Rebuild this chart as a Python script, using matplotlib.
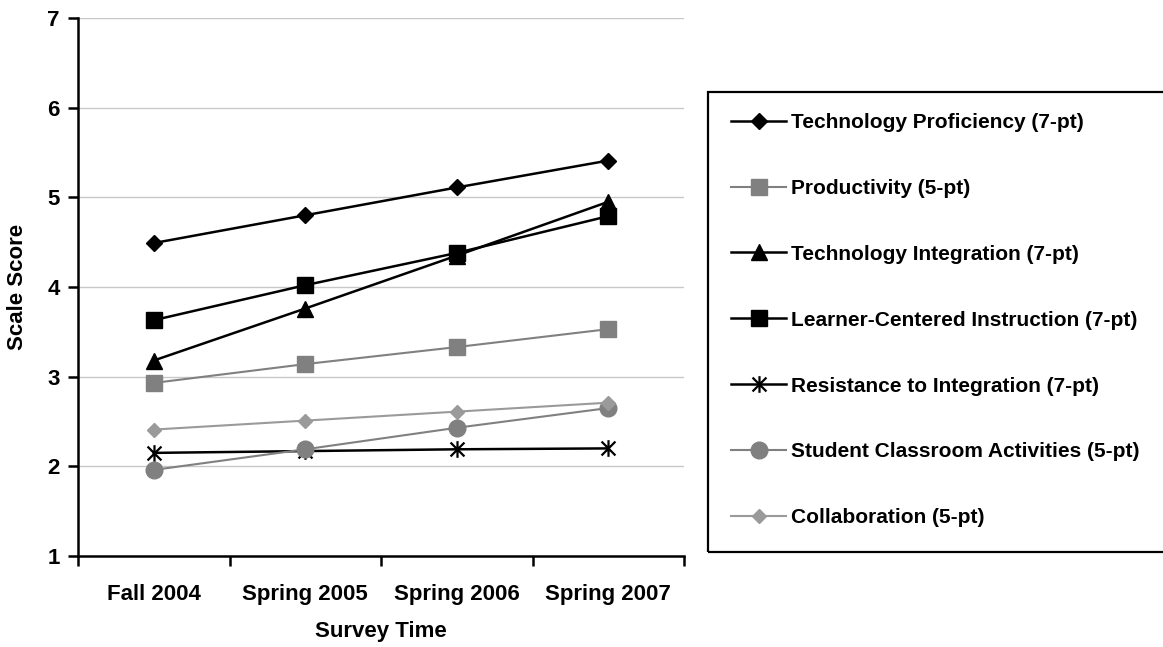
import numpy as np
import matplotlib
matplotlib.use("Agg")
import matplotlib.pyplot as plt
from matplotlib.path import Path
from matplotlib.patches import Rectangle

plt.rcParams['font.family'] = ['Liberation Sans', 'DejaVu Sans']
plt.rcParams['font.weight'] = 'bold'
plt.rcParams['axes.labelweight'] = 'bold'

# survey waves
times = ['Fall 2004', 'Spring 2005', 'Spring 2006', 'Spring 2007']

tech_prof = [4.49, 4.80, 5.11, 5.41]
productivity = [2.93, 3.14, 3.33, 3.53]
tech_integ = [3.18, 3.76, 4.35, 4.95]
learner_centered = [3.63, 4.02, 4.38, 4.79]
resistance = [2.15, 2.17, 2.19, 2.20]
student_act = [1.96, 2.19, 2.43, 2.65]
collaboration = [2.41, 2.51, 2.61, 2.71]

# asterisk marker: X with a vertical bar
star = Path([(-1, -1), (1, 1), (-1, 1), (1, -1), (0, -1.2), (0, 1.2)],
            [Path.MOVETO, Path.LINETO, Path.MOVETO, Path.LINETO, Path.MOVETO, Path.LINETO])

series = [
    ('Technology Proficiency (7-pt)', tech_prof, 'black', 'D', 8.5, 1.8),
    ('Productivity (5-pt)', productivity, '#808080', 's', 11.5, 1.5),
    ('Technology Integration (7-pt)', tech_integ, 'black', '^', 12, 1.8),
    ('Learner-Centered Instruction (7-pt)', learner_centered, 'black', 's', 11.5, 1.8),
    ('Resistance to Integration (7-pt)', resistance, 'black', star, 12, 1.8),
    ('Student Classroom Activities (5-pt)', student_act, '#808080', 'o', 12, 1.5),
    ('Collaboration (5-pt)', collaboration, '#9a9a9a', 'D', 7.5, 1.5),
]

fig = plt.figure(figsize=(11.63, 6.47), dpi=100)
ax = fig.add_axes([78/1163, 1 - 556/647, (684-78)/1163, (556-18)/647])

x = np.arange(len(times))
for name, vals, col, mk, ms, lw in series:
    if mk is star:
        ax.plot(x, vals, color=col, lw=lw, marker=mk, ms=ms, mec=col, mew=1.6,
                mfc='none', label=name, clip_on=False)
    else:
        ax.plot(x, vals, color=col, lw=lw, marker=mk, ms=ms, mec=col, mfc=col,
                label=name, clip_on=False)

ax.set_xlim(-0.5, 3.5)
ax.set_ylim(1, 7)
ax.set_yticks(range(1, 8))
ax.set_xticks(x)
ax.set_xticklabels(times, fontsize=16)
ax.set_xticks(np.arange(-0.5, 4, 1), minor=True)
ax.tick_params(axis='x', which='major', length=0, pad=20)
ax.tick_params(axis='x', which='minor', length=7, width=1.8, direction='out')
ax.tick_params(axis='y', length=7, width=1.8, direction='out', labelsize=16, pad=6)

ax.yaxis.grid(True, color='#c8c8c8', lw=1)
ax.set_axisbelow(True)
for s in ['top', 'right']:
    ax.spines[s].set_visible(False)
for s in ['left', 'bottom']:
    ax.spines[s].set_linewidth(1.8)

ax.set_xlabel('Survey Time', fontsize=16, labelpad=12)
ax.set_ylabel('Scale Score', fontsize=16, labelpad=14)

fig.legend(loc='upper left', bbox_to_anchor=(731/1163, 1 - 113/647), frameon=False,
           fontsize=15, handlelength=2.64, handletextpad=0.25, labelspacing=2.25,
           borderpad=0, borderaxespad=0, numpoints=1, markerscale=1)
fig.add_artist(Rectangle((708/1163, 1 - 552/647), 470/1163, 460/647,
                         transform=fig.transFigure, fill=False, ec='black', lw=1.6))

fig.savefig('out.png', dpi=100)
